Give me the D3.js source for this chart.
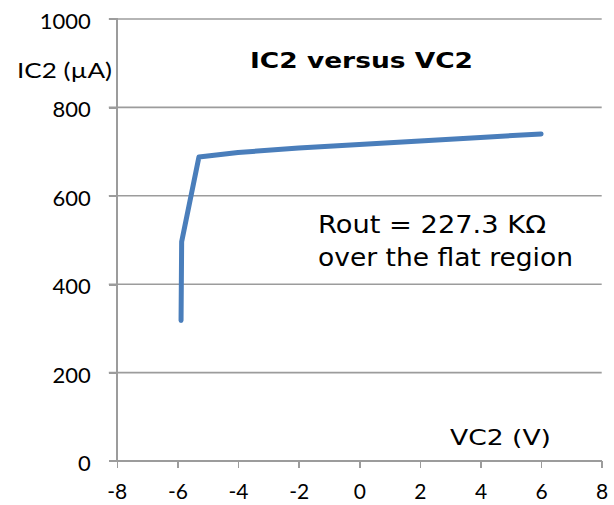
<!DOCTYPE html>
<html>
<head>
<meta charset="utf-8">
<script src="https://cdn.jsdelivr.net/npm/d3@7"></script>
<style>
  html, body { margin: 0; padding: 0; background: #fff; }
  svg { display: block; }
</style>
</head>
<body>
<script>
// Data
const vc2 = [-5.88, -5.86, -5.29, -4, -2, 0, 2, 4, 6];
const ic2 = [318, 496, 688, 698, 708, 716, 724, 732, 740];
const xTicks = [-8, -6, -4, -2, 0, 2, 4, 6, 8];
const yTicks = [0, 200, 400, 600, 800, 1000];
const title = "IC2 versus VC2";
const xTitle = "VC2 (V)";
const yTitle = "IC2 (\u00B5A)";
const note = ["Rout = 227.3 K\u03A9", "over the flat region"];

const W = 614, H = 505;
const svg = d3.select("body").append("svg").attr("width", W).attr("height", H);

const x = d3.scaleLinear().domain([-8, 8]).range([116.8, 601.7]);
const y = d3.scaleLinear().domain([0, 1000]).range([461, 19]);

const grey = "#9c9c9c";
const tickFont = "Lato, 'Open Sans', sans-serif";
const textFont = "'DejaVu Sans', Verdana, sans-serif";

// Horizontal gridlines (incl. tick stubs left of axis)
svg.append("g").selectAll("line").data(yTicks.filter(d => d > 0)).join("line")
  .attr("x1", x(-8) - 8).attr("x2", x(8))
  .attr("y1", d => y(d)).attr("y2", d => y(d))
  .attr("stroke", grey).attr("stroke-width", 1.6);

// Y axis
const yAxis = d3.axisLeft(y).tickValues(yTicks).tickSize(8).tickPadding(0).tickFormat(d3.format("d"));
const gy = svg.append("g").attr("transform", `translate(${x(-8)},0)`).call(yAxis);
gy.select(".domain").attr("stroke", grey).attr("stroke-width", 1.6).attr("d", `M-8,${y(0)}H0V${y(1000)}H-8`);
gy.selectAll(".tick line").attr("stroke", grey).attr("stroke-width", 1.6);
gy.selectAll(".tick text")
  .attr("x", -26).attr("dy", null).attr("y", 9.5)
  .attr("font-family", tickFont).attr("font-size", 22).attr("fill", "#000");

// X axis at y=0
const xAxis = d3.axisBottom(x).tickValues(xTicks).tickSize(7).tickPadding(0).tickFormat(d3.format("d"));
const gx = svg.append("g").attr("transform", `translate(0,${y(0)})`).call(xAxis);
gx.select(".domain").attr("stroke", grey).attr("stroke-width", 1.6).attr("d", `M${x(-8)},0H${x(8)}`);
gx.selectAll(".tick line").attr("stroke", grey).attr("stroke-width", 1.6);
gx.selectAll(".tick text")
  .attr("dy", null).attr("y", 38)
  .attr("font-family", tickFont).attr("font-size", 21).attr("fill", "#000")
  .text(d => d < 0 ? "-" + Math.abs(d) : d);

svg.selectAll(".domain, .tick line").attr("shape-rendering", "crispEdges");

// Series line
const pts = vc2.map((v, i) => [v, ic2[i]]);
svg.append("path")
  .datum(pts)
  .attr("fill", "none")
  .attr("stroke", "#4A7EBB")
  .attr("stroke-width", 5)
  .attr("stroke-linecap", "round")
  .attr("stroke-linejoin", "round")
  .attr("d", d3.line().x(d => x(d[0])).y(d => y(d[1])));

// Title
svg.append("text").attr("x", 250).attr("y", 68)
  .attr("font-family", textFont).attr("font-weight", "bold").attr("font-size", 22)
  .attr("textLength", 223).attr("lengthAdjust", "spacingAndGlyphs")
  .attr("fill", "#000").text(title);

// Axis titles
svg.append("text").attr("x", 17).attr("y", 78)
  .attr("font-family", tickFont).attr("font-size", 22)
  .attr("textLength", 95).attr("lengthAdjust", "spacingAndGlyphs")
  .attr("fill", "#000").text(yTitle);

svg.append("text").attr("x", 450).attr("y", 445)
  .attr("font-family", textFont).attr("font-size", 22)
  .attr("textLength", 101).attr("lengthAdjust", "spacingAndGlyphs")
  .attr("fill", "#000").text(xTitle);

// Annotation
svg.append("text").attr("x", 318).attr("y", 233)
  .attr("font-family", textFont).attr("font-size", 24)
  .attr("textLength", 228).attr("lengthAdjust", "spacingAndGlyphs")
  .attr("fill", "#000").text(note[0]);
svg.append("text").attr("x", 318).attr("y", 266)
  .attr("font-family", textFont).attr("font-size", 24)
  .attr("textLength", 255).attr("lengthAdjust", "spacingAndGlyphs")
  .attr("fill", "#000").text(note[1]);
</script>
</body>
</html>
